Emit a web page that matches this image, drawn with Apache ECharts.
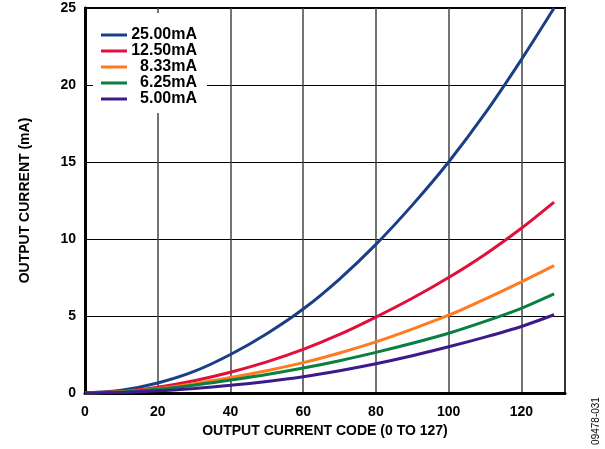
<!DOCTYPE html>
<html>
<head>
<meta charset="utf-8">
<script src="https://cdn.jsdelivr.net/npm/echarts@6/dist/echarts.min.js"></script>
<style>html,body{margin:0;padding:0;background:#fff;}#c{width:605px;height:449px;}</style>
</head>
<body>
<div id="c"></div>
<script>
var codes = [0, 10, 20, 30, 40, 50, 60, 70, 80, 90, 100, 110, 120, 129];
var seriesNames = ['25.00mA', '12.50mA', '8.33mA', '6.25mA', '5.00mA'];
var i25 = [0, 0.18, 0.65, 1.4, 2.5, 3.85, 5.45, 7.4, 9.65, 12.2, 15.0, 18.15, 21.65, 25.0];
var i12 = [0, 0.1, 0.38, 0.8, 1.35, 2.02, 2.83, 3.8, 4.93, 6.15, 7.5, 9.0, 10.7, 12.4];
var i8 = [0, 0.08, 0.28, 0.6, 1.0, 1.45, 1.97, 2.6, 3.32, 4.15, 5.05, 6.1, 7.22, 8.27];
var i6 = [0, 0.07, 0.24, 0.5, 0.84, 1.2, 1.62, 2.1, 2.64, 3.23, 3.88, 4.65, 5.5, 6.43];
var i5 = [0, 0.04, 0.14, 0.3, 0.5, 0.75, 1.06, 1.45, 1.9, 2.42, 3.0, 3.63, 4.32, 5.08];
var yTicks = [0, 5, 10, 15, 20, 25];
var xTicks = [0, 20, 40, 60, 80, 100, 120];
var colors = ['#1a3f87', '#e0103c', '#ff7a20', '#0a7f3f', '#3c1a8c'];
var allValues = [i25, i12, i8, i6, i5];

function pairs(vals) { return codes.map(function (c, k) { return [c, vals[k]]; }); }

var chart = echarts.init(document.getElementById('c'));
var font = 'Liberation Sans, Arial, sans-serif';
chart.setOption({
  animation: false,
  backgroundColor: '#fff',
  grid: { left: 85, right: 40, top: 8, bottom: 56, show: true, borderColor: '#000', borderWidth: 2, backgroundColor: 'transparent' },
  legend: {
    orient: 'vertical', left: 93, top: 13,
    backgroundColor: '#fff',
    padding: [14, 10, 6, 8],
    itemGap: 0, itemWidth: 26, itemHeight: 3, icon: 'rect',
    data: seriesNames,
    formatter: function (n) { return '{n|' + n + '}'; },
    textStyle: { fontFamily: font, fontWeight: 'bold', fontSize: 16, color: '#000', lineHeight: 16,
      rich: { n: { width: 65, align: 'right', fontFamily: font, fontWeight: 'bold', fontSize: 16, lineHeight: 16 } } }
  },
  xAxis: {
    type: 'value', min: 0, max: 132, interval: 20,
    name: 'OUTPUT CURRENT CODE (0 TO 127)', nameLocation: 'middle', nameGap: 31,
    nameTextStyle: { fontFamily: font, fontWeight: 'bold', fontSize: 14, color: '#000' },
    axisLine: { show: true, onZero: false, lineStyle: { color: '#000', width: 3 } },
    axisTick: { show: false },
    axisLabel: { margin: 12, fontFamily: font, fontWeight: 'bold', fontSize: 14, color: '#000',
      formatter: function (v) { return xTicks.indexOf(v) >= 0 ? String(v) : ''; } },
    splitLine: { show: true, lineStyle: { color: '#444', width: 1.5 } }
  },
  yAxis: {
    type: 'value', min: 0, max: 25, interval: 5,
    name: 'OUTPUT CURRENT (mA)', nameLocation: 'middle', nameGap: 53,
    nameTextStyle: { fontFamily: font, fontWeight: 'bold', fontSize: 14, color: '#000' },
    axisLine: { show: true, lineStyle: { color: '#000', width: 3 } },
    axisTick: { show: false },
    axisLabel: { margin: 9, fontFamily: font, fontWeight: 'bold', fontSize: 14, color: '#000',
      formatter: function (v) { return yTicks.indexOf(v) >= 0 ? String(v) : ''; } },
    splitLine: { show: true, lineStyle: { color: '#000', width: 1 } }
  },
  graphic: [{
    type: 'text', x: 596, y: 421, rotation: Math.PI / 2,
    style: { text: '09478-031', fontFamily: font, fontSize: 10, fill: '#000', align: 'center', verticalAlign: 'middle' }
  }],
  series: seriesNames.map(function (n, k) {
    return {
      name: n, type: 'line', smooth: 0.3, showSymbol: false, symbol: 'none',
      data: pairs(allValues[k]),
      lineStyle: { color: colors[k], width: 3 },
      itemStyle: { color: colors[k] },
      z: 3
    };
  })
});
</script>
</body>
</html>
